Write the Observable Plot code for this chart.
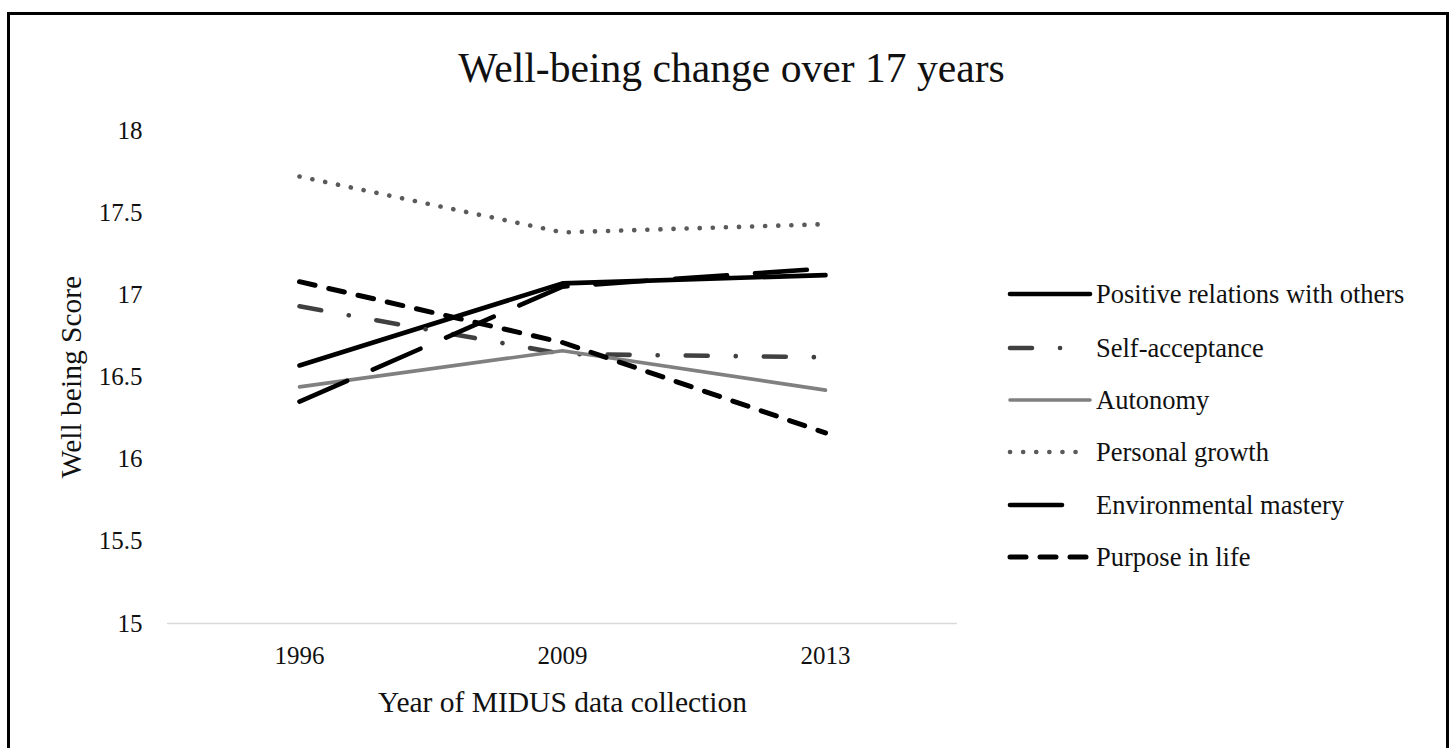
<!DOCTYPE html>
<html>
<head>
<meta charset="utf-8">
<script src="https://cdn.jsdelivr.net/npm/d3@7"></script>
<script src="https://cdn.jsdelivr.net/npm/@observablehq/plot@0.6"></script>
<style>
  html, body { margin: 0; padding: 0; background: #fff; }
  #wrap { position: relative; width: 1455px; height: 748px; overflow: hidden; font-family: "Liberation Serif", "Times New Roman", serif; color: #111; }
  #frame { position: absolute; left: 7px; top: 12px; width: 1442px; height: 780px; border: 3px solid #000; box-sizing: border-box; }
  #title { position: absolute; left: 4px; width: 1455px; top: 46px; text-align: center; font-size: 41.6px; line-height: 44px; }
  #chart { position: absolute; left: 0; top: 0; }
  .lg { position: absolute; left: 1006px; height: 30px; }
  .lg svg { position: absolute; left: 0; top: 3px; }
  .lg span { position: absolute; left: 90px; top: 0; white-space: nowrap; font-size: 26.5px; line-height: 30px; }
</style>
</head>
<body>
<div id="wrap">
  <div id="frame"></div>
  <div id="title">Well-being change over 17 years</div>
  <div id="chart"></div>
  <div id="legend"></div>
</div>
<script>
const years = ["1996", "2009", "2013"];
const seriesNames = ["Positive relations with others", "Self-acceptance", "Autonomy", "Personal growth", "Environmental mastery", "Purpose in life"];
const positiveRelations = [16.57, 17.07, 17.12];
const selfAcceptance = [16.93, 16.64, 16.62];
const autonomy = [16.44, 16.66, 16.42];
const personalGrowth = [17.72, 17.38, 17.43];
const environmentalMastery = [16.35, 17.05, 17.16];
const purposeInLife = [17.08, 16.71, 16.16];
const yTicks = [15, 15.5, 16, 16.5, 17, 17.5, 18];

const seriesValues = [positiveRelations, selfAcceptance, autonomy, personalGrowth, environmentalMastery, purposeInLife];
const styles = [
  {stroke: "#000000", strokeWidth: 4.6, strokeDasharray: null, legendLen: 80},
  {stroke: "#404040", strokeWidth: 4.6, strokeDasharray: "22,28,0.1,28", legendLen: 76},
  {stroke: "#808080", strokeWidth: 3.6, strokeDasharray: null, legendLen: 80},
  {stroke: "#5a5a5a", strokeWidth: 4.6, strokeDasharray: "0.1,13", legendLen: 78},
  {stroke: "#000000", strokeWidth: 4.6, strokeDasharray: "52,28", legendLen: 76},
  {stroke: "#000000", strokeWidth: 5, strokeDasharray: "16,14", legendLen: 76}
];

const data = seriesNames.flatMap((name, i) => years.map((y, j) => ({series: name, year: y, value: seriesValues[i][j]})));

const lineMarks = seriesNames.map((name, i) => Plot.line(data.filter(d => d.series === name), {
  x: "year", y: "value",
  stroke: styles[i].stroke,
  strokeWidth: styles[i].strokeWidth,
  strokeDasharray: styles[i].strokeDasharray,
  strokeLinecap: "round",
  strokeLinejoin: "round"
}));

const chart = Plot.plot({
  width: 1000,
  height: 748,
  marginLeft: 167,
  marginRight: 43,
  marginTop: 130,
  marginBottom: 125,
  style: {fontFamily: '"Liberation Serif", "Times New Roman", serif', fontSize: "25px", color: "#111", background: "transparent"},
  x: {type: "point", domain: years, padding: 0.5},
  y: {domain: [15, 18]},
  marks: [
    Plot.ruleY([15], {stroke: "#d9d9d9", strokeWidth: 1.5}),
    Plot.axisX({tickSize: 0, tickPadding: 23, label: null, fontSize: 25}),
    Plot.axisY({ticks: yTicks, tickSize: 0, tickPadding: 25, label: null, fontSize: 25, tickFormat: d => String(d)}),
    Plot.text(["Well being Score"], {frameAnchor: "left", dx: -96, rotate: -90, fontSize: 29.5, fill: "#111", textAnchor: "middle", lineAnchor: "middle"}),
    Plot.text(["Year of MIDUS data collection"], {frameAnchor: "bottom", dy: 79, fontSize: 29.5, fill: "#111", textAnchor: "middle", lineAnchor: "middle"}),
    ...lineMarks
  ]
});
document.getElementById("chart").appendChild(chart);

// Legend
const legend = document.getElementById("legend");
const rowCenters = [294, 348, 400, 452, 505, 557];
seriesNames.forEach((name, i) => {
  const row = document.createElement("div");
  row.className = "lg";
  row.style.top = (rowCenters[i] - 15) + "px";
  const ns = "http://www.w3.org/2000/svg";
  const svg = document.createElementNS(ns, "svg");
  svg.setAttribute("width", 90);
  svg.setAttribute("height", 24);
  const ln = document.createElementNS(ns, "line");
  ln.setAttribute("x1", 4); ln.setAttribute("x2", 4 + styles[i].legendLen);
  ln.setAttribute("y1", 12); ln.setAttribute("y2", 12);
  ln.setAttribute("stroke", styles[i].stroke);
  ln.setAttribute("stroke-width", styles[i].strokeWidth);
  ln.setAttribute("stroke-linecap", "round");
  if (styles[i].strokeDasharray) ln.setAttribute("stroke-dasharray", styles[i].strokeDasharray);
  svg.appendChild(ln);
  row.appendChild(svg);
  const sp = document.createElement("span");
  sp.textContent = name;
  row.appendChild(sp);
  legend.appendChild(row);
});
</script>
</body>
</html>
